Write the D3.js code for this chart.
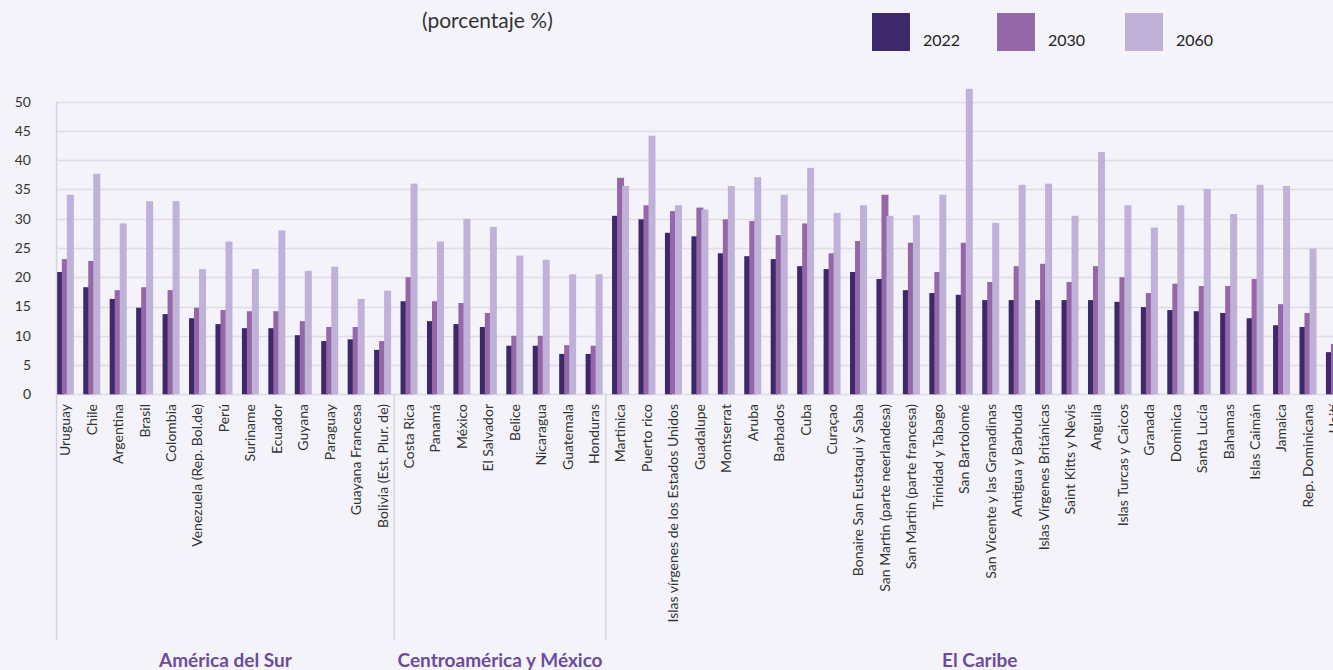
<!DOCTYPE html>
<html>
<head>
<meta charset="utf-8">
<script src="https://cdn.jsdelivr.net/npm/d3@7"></script>
<style>
  html, body { margin: 0; padding: 0; background: #f4f3f9; overflow: hidden; }
  svg { display: block; font-family: Lato, "Open Sans", sans-serif; }
</style>
</head>
<body>
<div id="chart"></div>
<script>
var countries = ['Uruguay', 'Chile', 'Argentina', 'Brasil', 'Colombia', 'Venezuela (Rep. Bol.de)', 'Perú',
  'Suriname', 'Ecuador', 'Guyana', 'Paraguay', 'Guayana Francesa', 'Bolivia (Est. Plur. de)',
  'Costa Rica', 'Panamá', 'México', 'El Salvador', 'Belice', 'Nicaragua', 'Guatemala', 'Honduras',
  'Martinica', 'Puerto rico', 'Islas vírgenes de los Estados Unidos', 'Guadalupe', 'Montserrat', 'Aruba',
  'Barbados', 'Cuba', 'Curaçao', 'Bonaire San Eustaqui y Saba', 'San Martin (parte neerlandesa)',
  'San Martin (parte francesa)', 'Trinidad y Tabago', 'San Bartolomé', 'San Vicente y las Granadinas',
  'Antigua y Barbuda', 'Islas Vírgenes Británicas', 'Saint Kitts y Nevis', 'Anguila', 'Islas Turcas y Caicos',
  'Granada', 'Dominica', 'Santa Lucía', 'Bahamas', 'Islas Caimán', 'Jamaica', 'Rep. Dominicana', 'Haití'];

var v2022 = [20.9, 18.3, 16.3, 14.8, 13.7, 13.0, 12.0, 11.3, 11.3, 10.1, 9.1, 9.4, 7.6,
  15.9, 12.5, 12.0, 11.5, 8.3, 8.3, 6.9, 6.9,
  30.5, 29.9, 27.6, 27.0, 24.1, 23.6, 23.1, 21.9, 21.4, 20.9, 19.7, 17.8, 17.3, 17.0,
  16.1, 16.1, 16.1, 16.1, 16.1, 15.8, 14.9, 14.4, 14.2, 13.9, 13.0, 11.8, 11.5, 7.2];
var v2030 = [23.1, 22.8, 17.8, 18.3, 17.8, 14.8, 14.4, 14.2, 14.2, 12.5, 11.5, 11.5, 9.1,
  20.0, 15.9, 15.6, 13.9, 10.0, 10.0, 8.4, 8.3,
  37.0, 32.3, 31.3, 31.9, 29.9, 29.6, 27.2, 29.2, 24.1, 26.2, 34.1, 25.9, 20.9, 25.9,
  19.2, 21.9, 22.3, 19.2, 21.9, 20.0, 17.3, 18.9, 18.5, 18.5, 19.7, 15.4, 13.9, 8.6];
var v2060 = [34.1, 37.7, 29.2, 33.0, 33.0, 21.4, 26.1, 21.4, 28.0, 21.1, 21.8, 16.3, 17.7,
  36.0, 26.1, 30.0, 28.6, 23.7, 23.0, 20.5, 20.5,
  35.6, 44.2, 32.3, 31.6, 35.6, 37.1, 34.1, 38.7, 31.0, 32.3, 30.5, 30.6, 34.1, 52.2,
  29.3, 35.8, 36.0, 30.5, 41.4, 32.3, 28.5, 32.3, 35.1, 30.8, 35.8, 35.6, 24.9, 21.0];

var years = ['2022', '2030', '2060'];
var colors = ['#3d2869', '#9667a7', '#bfb1d8'];
var yTicks = [0, 5, 10, 15, 20, 25, 30, 35, 40, 45, 50];

var regions = ['América del Sur', 'Centroamérica y México', 'El Caribe'];
var regionFirst = ['Uruguay', 'Costa Rica', 'Martinica'];
var regionLast = ['Bolivia (Est. Plur. de)', 'Honduras', 'Haití'];

var series = [v2022, v2030, v2060];

var width = 1333, height = 670;
var svg = d3.select('#chart').append('svg').attr('width', width).attr('height', height);

var x = d3.scaleBand().domain(countries).range([52.1, 52.1 + 26.44 * countries.length]);
var xIn = d3.scalePoint().domain(years).range([-5, 5]);
var y = d3.scaleLinear().domain([0, 50]).range([394.3, 101.7]);
var plotLeft = 56.5;
var barW = 7;

// gridlines
svg.append('g').selectAll('line').data(yTicks).enter().append('line')
  .attr('x1', plotLeft).attr('x2', width)
  .attr('y1', function(d){ return Math.round(y(d)) + 0.5; })
  .attr('y2', function(d){ return Math.round(y(d)) + 0.5; })
  .attr('stroke', '#dddce2').attr('stroke-width', 1.5);

// y tick labels
svg.append('g').selectAll('text').data(yTicks).enter().append('text')
  .attr('x', 31).attr('y', function(d){ return y(d); })
  .attr('dy', '0.35em').attr('text-anchor', 'end')
  .attr('font-size', 14).attr('fill', '#333')
  .text(function(d){ return d; });

// bars
series.forEach(function(vals, si){
  svg.append('g').selectAll('rect').data(countries).enter().append('rect')
    .attr('x', function(d){ return x(d) + x.bandwidth() / 2 + xIn(years[si]) - barW / 2; })
    .attr('width', barW)
    .attr('y', function(d, i){ return y(vals[i]); })
    .attr('height', function(d, i){ return y(0) - y(vals[i]); })
    .attr('fill', colors[si]);
});

// axis and region separators
svg.append('line').attr('x1', plotLeft).attr('x2', plotLeft)
  .attr('y1', y(50)).attr('y2', 640).attr('stroke', '#d4d3da').attr('stroke-width', 1.5);
regionFirst.slice(1).forEach(function(c){
  var sx = x(c) - 1.5;
  svg.append('line').attr('x1', sx).attr('x2', sx)
    .attr('y1', y(0)).attr('y2', 640).attr('stroke', '#d4d3da').attr('stroke-width', 1.5);
});

// category labels
svg.append('g').selectAll('text').data(countries).enter().append('text')
  .attr('transform', function(d){
    return 'translate(' + (x(d) + x.bandwidth() / 2) + ',404) rotate(-90)';
  })
  .attr('dy', '0.35em').attr('text-anchor', 'end')
  .attr('font-size', 14).attr('fill', '#333')
  .text(function(d){ return d; });

// region labels
regions.forEach(function(r, i){
  var x0 = i === 0 ? plotLeft : x(regionFirst[i]) - 1.5;
  var x1 = x(regionLast[i]) + x.bandwidth() + (i === 2 ? 6 : -1.5);
  svg.append('text').attr('x', (x0 + x1) / 2).attr('y', 667)
    .attr('text-anchor', 'middle').attr('font-size', 19).attr('font-weight', 'bold')
    .attr('fill', '#6a4c9c').text(r);
});

// title
svg.append('text').attr('x', 422).attr('y', 28)
  .attr('font-size', 21).attr('fill', '#333').text('(porcentaje %)');

// legend
var legendX = [872, 997, 1125];
years.forEach(function(yr, i){
  svg.append('rect').attr('x', legendX[i]).attr('y', 13).attr('width', 38).attr('height', 38)
    .attr('fill', colors[i]);
  svg.append('text').attr('x', legendX[i] + 51).attr('y', 46)
    .attr('font-size', 16).attr('fill', '#222').text(yr);
});
</script>
</body>
</html>
